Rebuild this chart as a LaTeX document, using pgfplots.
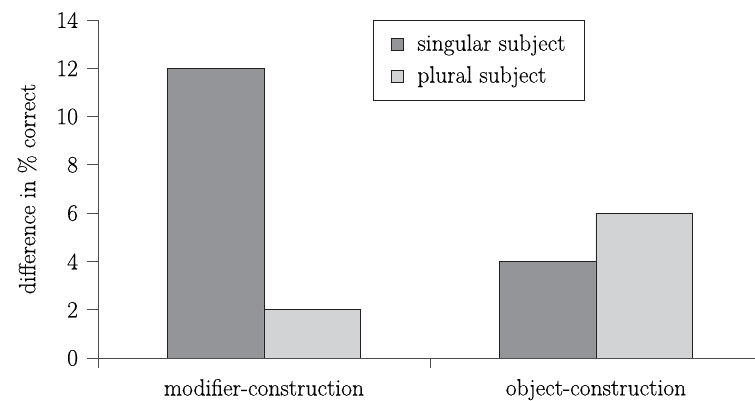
\documentclass[border=0pt]{standalone}
\usepackage{fontspec}
\setmainfont{Latin Modern Roman}[FakeBold=0.25]
\usepackage{pgfplots}
\pgfplotsset{compat=1.18}
\definecolor{darkbar}{HTML}{939598}
\definecolor{lightbar}{HTML}{D1D3D4}
\definecolor{axgray}{HTML}{4D4D4F}
\definecolor{edge}{HTML}{231F20}
\begin{document}
\fontsize{23.5}{28}\selectfont
\begin{tikzpicture}
\begin{axis}[
  at={(0pt,0pt)}, anchor=south west,
  scale only axis, width=657pt, height=338pt,
  xmin=-0.5, xmax=1.479, ymin=0, ymax=14,
  axis x line*=bottom, axis y line*=left,
  axis line style={draw=axgray, line width=0.8pt},
  every tick/.style={draw=axgray, line width=0.8pt},
  tick align=outside,
  major tick length=11pt, minor tick length=10pt,
  ytick={0,2,...,14},
  xtick={0,1},
  xticklabels={modifier-construction, object-construction},
  major x tick style={draw=none},
  minor xtick={-0.5,0.5},
  xticklabel style={yshift=-2pt},
  yticklabel style={xshift=-1pt},
  /pgf/number format/assume math mode=true,
  ylabel={difference in \% correct},
  ylabel style={yshift=4pt},
  ybar=0pt, bar width=0.29,
  legend style={at={(0.4186,1)}, anchor=north west, draw=edge, line width=0.8pt,
    legend cell align=left, font=\fontsize{23.5}{28}\selectfont,
    inner xsep=17pt, inner ysep=12pt, row sep=8pt},
  legend image code/.code={\draw[#1, line width=0.6pt] (1pt,-6pt) rectangle (13pt,6pt);
    \path[draw=none, fill=none] (0pt,0pt) -- (25pt,0pt);},
]
\addplot[fill=darkbar, draw=edge, line width=0.8pt] coordinates {(0,12) (1,4)};
\addplot[fill=lightbar, draw=edge, line width=0.8pt] coordinates {(0,2) (1,6)};
\legend{singular subject, plural subject}
\end{axis}
\pgfresetboundingbox
\path (-98pt,-43pt) rectangle (657pt,358pt);
\end{tikzpicture}
\end{document}
